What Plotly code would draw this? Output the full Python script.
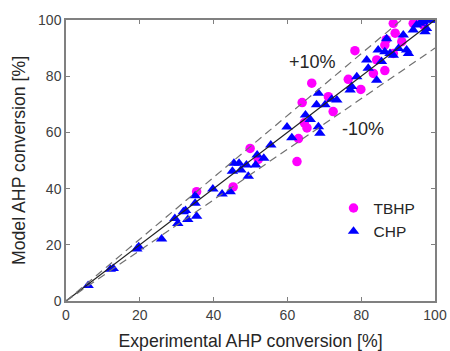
import plotly.graph_objects as go

# TBHP (circles): experimental vs model conversion [%]
tbhp_exp = [35.4, 45.3, 49.9, 52.1, 62.6, 63.0, 64.6, 65.3, 64.0, 66.6, 71.1, 72.4,
            76.5, 79.9, 78.3, 83.3, 84.2, 86.4, 86.4, 86.8, 88.7, 89.2, 88.7, 91.0,
            94.1, 96.4, 96.9]
tbhp_mod = [38.9, 40.6, 54.3, 50.4, 49.6, 57.8, 63.4, 61.6, 70.6, 77.5, 72.7, 67.4,
            78.9, 75.3, 89.1, 81.0, 85.8, 82.0, 91.1, 93.0, 88.1, 95.3, 98.8, 92.3,
            98.8, 100.0, 98.2]

# CHP (triangles)
chp_exp = [6.0, 12.0, 12.8, 19.2, 19.7, 25.9, 29.5, 30.3, 31.8, 32.4, 33.0, 35.4,
           35.0, 35.0, 39.8, 42.3, 44.5, 45.5, 46.9, 45.1, 47.4, 48.9, 49.4, 51.4,
           51.8, 53.6, 55.5, 59.9, 61.2, 64.9, 66.2, 68.4, 68.8, 68.4, 67.9, 70.2,
           72.0, 73.4, 77.0, 77.4, 78.8, 81.5, 81.9, 84.2, 84.6, 85.5, 86.4, 87.8,
           88.7, 86.9, 91.4, 90.1, 92.3, 92.8, 94.1, 95.0, 95.9, 96.8, 97.7, 98.6,
           99.5, 100.0, 97.3, 97.7]
chp_mod = [5.5, 11.3, 11.6, 18.5, 19.3, 22.1, 29.4, 27.6, 31.8, 32.2, 29.0, 30.2,
           34.8, 37.5, 39.9, 38.1, 38.9, 49.0, 49.0, 46.2, 46.6, 48.4, 44.4, 48.4,
           52.0, 50.8, 55.5, 61.9, 58.1, 66.2, 64.6, 62.0, 59.7, 73.9, 69.8, 69.8,
           71.8, 71.5, 75.1, 76.3, 79.8, 85.8, 82.8, 78.6, 89.3, 85.2, 88.7, 88.1,
           87.5, 93.3, 94.7, 89.9, 89.3, 88.1, 96.4, 98.2, 98.8, 99.4, 100.0, 100.0,
           100.0, 100.0, 95.8, 97.0]

# parity and +/-10 % reference lines
ref_x = [0, 100]
ref_upper_x = [0, 100 / 1.1]
ticks = [0, 20, 40, 60, 80, 100]

fig = go.Figure()
fig.add_trace(go.Scatter(x=tbhp_exp, y=tbhp_mod, mode="markers", name="TBHP",
                         marker=dict(symbol="circle", size=9.5, color="#FF00FF")))
fig.add_trace(go.Scatter(x=chp_exp, y=chp_mod, mode="markers", name="CHP",
                         marker=dict(symbol="triangle-up", size=10, color="#0000FF")))
fig.add_trace(go.Scatter(x=ref_x, y=ref_x, mode="lines", showlegend=False,
                         line=dict(color="#222222", width=1.2)))
fig.add_trace(go.Scatter(x=ref_upper_x, y=[v * 1.1 for v in ref_upper_x], mode="lines",
                         showlegend=False,
                         line=dict(color="#707070", width=1.2, dash="8px,5px")))
fig.add_trace(go.Scatter(x=ref_x, y=[v * 0.9 for v in ref_x], mode="lines",
                         showlegend=False,
                         line=dict(color="#707070", width=1.2, dash="8px,5px")))

fig.add_annotation(x=66.8, y=85.0, text="+10%", showarrow=False,
                   font=dict(size=18, color="#262626", family="Arial"))
fig.add_annotation(x=80.5, y=61.3, text="-10%", showarrow=False,
                   font=dict(size=18, color="#262626", family="Arial"))

axis_common = dict(range=[0, 100], tickvals=ticks, showline=True, linecolor="#808080",
                   linewidth=1.5, mirror="ticks", ticks="inside", ticklen=4,
                   tickcolor="#808080", showgrid=False, zeroline=False, automargin=False,
                   tickfont=dict(size=14, color="#404040", family="Arial"),
                   title_font=dict(size=17.7, color="#262626", family="Arial"))

fig.update_layout(
    width=450, height=351,
    margin=dict(l=66, r=15, t=20, b=50, autoexpand=False),
    plot_bgcolor="white", paper_bgcolor="white",
    xaxis=dict(title=dict(text="Experimental AHP conversion [%]", standoff=14), **axis_common),
    yaxis=dict(title=dict(text="Model AHP conversion [%]", standoff=8), **axis_common),
    legend=dict(x=0.725, y=0.39, xanchor="left", yanchor="top", bgcolor="rgba(0,0,0,0)",
                font=dict(size=15.5, color="#262626", family="Arial"), tracegroupgap=0),
)

fig.write_html("out.html")
